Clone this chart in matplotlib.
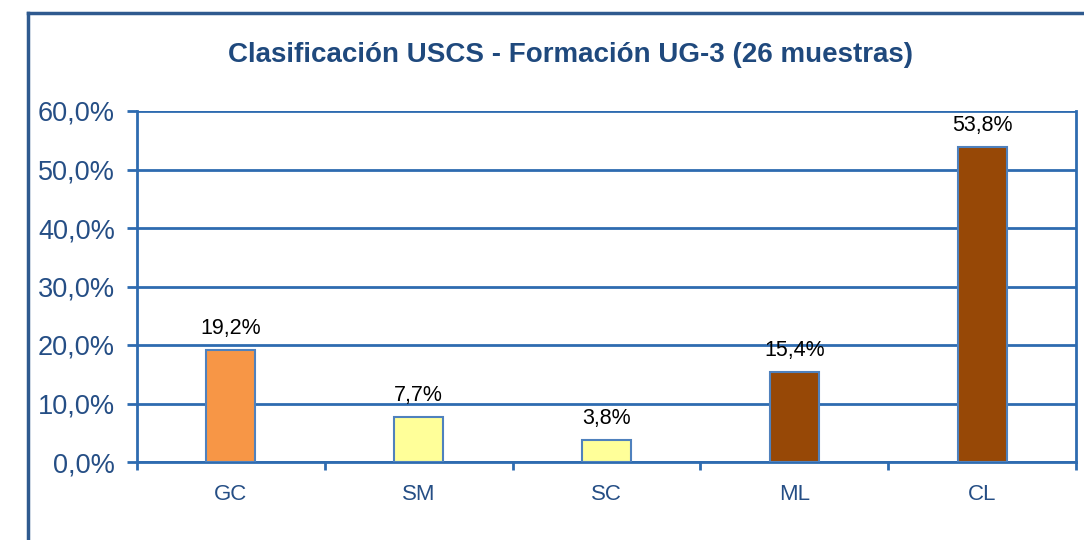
import numpy as np
import matplotlib.pyplot as plt
from matplotlib.lines import Line2D
from matplotlib.ticker import FixedLocator

# Data
categories = ['GC', 'SM', 'SC', 'ML', 'CL']
percent = [19.2, 7.7, 3.8, 15.4, 53.8]
bar_colors = ['#F79646', '#FFFF99', '#FFFF99', '#974806', '#974806']
y_ticks = [0, 10, 20, 30, 40, 50, 60]

blue = '#2E6BB0'
text_blue = '#254E85'

plt.rcParams['font.family'] = ['Liberation Sans', 'DejaVu Sans']

fig = plt.figure(figsize=(10.84, 5.40), dpi=100)
ax = fig.add_axes([137 / 1084, 1 - 462 / 540, (1076 - 137) / 1084, (462 - 111) / 540])

x = np.arange(len(categories))
ax.bar(x, percent, width=0.26, color=bar_colors, edgecolor='#4F81BD', linewidth=1.5, zorder=3)

for xi, v in zip(x, percent):
    ax.annotate(f'{v:.1f}%'.replace('.', ','), (xi, v), xytext=(0, 8),
                textcoords='offset points', ha='center', va='bottom',
                fontsize=15.5, color='black')

ax.set_xlim(-0.5, len(categories) - 0.5)
ax.set_ylim(0, 60)
ax.set_yticks(y_ticks)
ax.set_yticklabels([f'{t:.1f}%'.replace('.', ',') for t in y_ticks],
                   fontsize=19.5, color=text_blue)
ax.yaxis.grid(True, color=blue, linewidth=2, zorder=0)
ax.set_axisbelow(True)

ax.set_xticks(x)
ax.set_xticklabels(categories, fontsize=16, color=text_blue)
ax.xaxis.set_minor_locator(FixedLocator(np.arange(-0.5, len(categories), 1.0)))
ax.tick_params(axis='x', which='major', length=0, pad=16)
ax.tick_params(axis='x', which='minor', length=6, width=2, color=blue)
ax.tick_params(axis='y', length=7, width=2, color=blue, pad=9)

for side in ['left', 'bottom', 'right']:
    ax.spines[side].set_color(blue)
    ax.spines[side].set_linewidth(2)
ax.spines['top'].set_visible(False)

# Outer frame (chart area border)
fig.add_artist(Line2D([28 / 1084, 28 / 1084], [0, 1 - 13 / 540], color='#2F5A8F', linewidth=2.5))
fig.add_artist(Line2D([28 / 1084, 1], [1 - 13 / 540, 1 - 13 / 540], color='#2F5A8F', linewidth=2.5))

fig.text(570 / 1084, 1 - 55 / 540, 'Clasificación USCS - Formación UG-3 (26 muestras)',
         ha='center', va='center', fontsize=20, fontweight='bold', color='#1F497D')

fig.savefig('out.png', dpi=100)
